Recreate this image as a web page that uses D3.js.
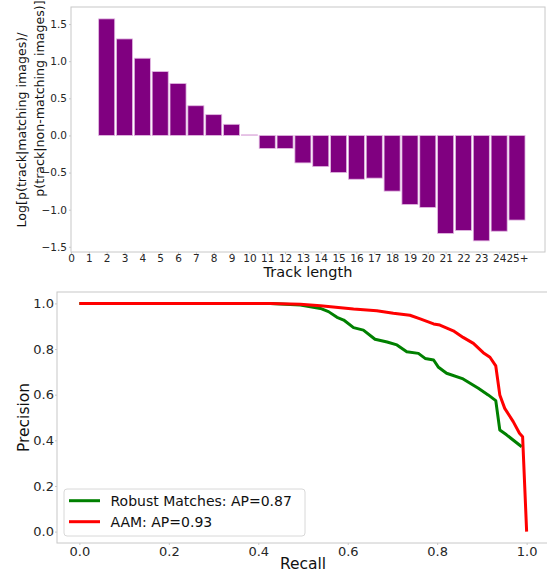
<!DOCTYPE html>
<html>
<head>
<meta charset="utf-8">
<script src="https://cdn.jsdelivr.net/npm/d3@7"></script>
<style>
  body { margin: 0; background: #fff; }
  svg { display: block; font-family: "DejaVu Sans", sans-serif; }
  .domain { stroke: #c8c8c8; }
  .tick line { stroke: #c8c8c8; }
  .tick text { fill: #262626; }
</style>
</head>
<body>
<div id="chart"></div>
<script>
'use strict';

// bar chart: log ratio by track length
let trackLabels = ["2", "3", "4", "5", "6", "7", "8", "9", "10", "11", "12", "13",
    "14", "15", "16", "17", "18", "19", "20", "21", "22", "23", "24", "25+"];
let logRatio = [1.57, 1.30, 1.04, 0.86, 0.70, 0.40, 0.28, 0.15, 0.01, -0.175, -0.175, -0.37,
    -0.42, -0.50, -0.59, -0.575, -0.75, -0.93, -0.97, -1.32, -1.28, -1.42, -1.29, -1.14];
let barTickLabels = ["0", "1", "2", "3", "4", "5", "6", "7", "8", "9", "10", "11", "12",
    "13", "14", "15", "16", "17", "18", "19", "20", "21", "22", "23", "24", "25+"];
let barYTicks = [-1.5, -1.0, -0.5, 0.0, 0.5, 1.0, 1.5];

// precision / recall curves
let robustRecall = [0.0, 0.427, 0.494, 0.539, 0.557, 0.576, 0.591, 0.613, 0.635, 0.661, 0.688,
    0.710, 0.732, 0.758, 0.773, 0.792, 0.803, 0.821, 0.858, 0.892, 0.914, 0.931, 0.940, 0.955, 0.989];
let robustPrecision = [1.0, 1.0, 0.993, 0.978, 0.964, 0.939, 0.927, 0.894, 0.883, 0.843, 0.831,
    0.818, 0.788, 0.781, 0.759, 0.752, 0.720, 0.694, 0.669, 0.628, 0.599, 0.574, 0.445, 0.424, 0.372];
let aamRecall = [0.0, 0.427, 0.494, 0.539, 0.613, 0.665, 0.702, 0.739, 0.762, 0.792, 0.806,
    0.836, 0.858, 0.881, 0.903, 0.918, 0.931, 0.940, 0.951, 0.970, 0.984, 0.991, 1.0];
let aamPrecision = [1.0, 1.0, 0.996, 0.99, 0.975, 0.968, 0.957, 0.948, 0.932, 0.910, 0.905,
    0.880, 0.851, 0.825, 0.784, 0.764, 0.726, 0.599, 0.540, 0.482, 0.431, 0.416, 0.0];
let prTicks = [0.0, 0.2, 0.4, 0.6, 0.8, 1.0];
let seriesNames = ["Robust Matches: AP=0.87", "AAM: AP=0.93"];
let seriesColors = ["#008000", "#ff0000"];

const width = 547, height = 573;
const fmt = d3.format(".1f");

let svg = d3.select("#chart").append("svg")
    .attr("width", width)
    .attr("height", height);

/* ---------- upper panel: bar chart ---------- */
let barBox = {left: 71, right: 545, top: 7, bottom: 252};
let xBar = d3.scaleLinear().domain([0, 26.57]).range([barBox.left, barBox.right]);
let yBar = d3.scaleLinear().domain([-1.57, 1.73]).range([barBox.bottom, barBox.top]);

let gBar = svg.append("g");
gBar.append("rect")
    .attr("x", barBox.left).attr("y", barBox.top)
    .attr("width", barBox.right - barBox.left).attr("height", barBox.bottom - barBox.top)
    .attr("fill", "none").attr("stroke", "#c8c8c8");

gBar.selectAll("rect.bar")
    .data(logRatio)
    .enter()
    .append("rect")
    .attr("class", "bar")
    .attr("x", (d, i) => xBar(i + 2 - 0.45))
    .attr("width", xBar(0.9) - xBar(0))
    .attr("y", d => yBar(Math.max(d, 0)))
    .attr("height", d => Math.max(Math.abs(yBar(d) - yBar(0)), 0.8))
    .attr("fill", d => Math.abs(d) < 0.05 ? "#e8c6e8" : "#800080")
    .attr("stroke", "#e2b8e2")
    .attr("stroke-width", 0.8);

let xBarAxis = d3.axisBottom(xBar)
    .tickValues(d3.range(0, 26))
    .tickFormat((d, i) => barTickLabels[i])
    .tickSize(2).tickPadding(1);
gBar.append("g")
    .attr("transform", `translate(0,${barBox.bottom})`)
    .call(xBarAxis)
    .call(g => g.select(".domain").remove())
    .selectAll("text").attr("font-size", 10.5).attr("font-family", "DejaVu Sans");

let yBarAxis = d3.axisLeft(yBar)
    .tickValues(barYTicks)
    .tickFormat(fmt)
    .tickSize(2).tickPadding(2);
gBar.append("g")
    .attr("transform", `translate(${barBox.left},0)`)
    .call(yBarAxis)
    .call(g => g.select(".domain").remove())
    .selectAll("text").attr("font-size", 10.5).attr("font-family", "DejaVu Sans");

gBar.append("text")
    .attr("x", (barBox.left + barBox.right) / 2)
    .attr("y", 277)
    .attr("text-anchor", "middle")
    .attr("font-size", 14.5)
    .attr("fill", "#111")
    .text("Track length");

// two-line y label; second line sits higher than the first, as in the source
let yLab = gBar.append("text")
    .attr("transform", "translate(0,130) rotate(-90)")
    .attr("text-anchor", "middle")
    .attr("font-size", 12.6)
    .attr("fill", "#111");
yLab.append("tspan").attr("x", 0).attr("y", 26).text("Log[p(track|matching images)/");
yLab.append("tspan").attr("x", 31.5).attr("y", 43.5).text("p(track|non-matching images)]");

/* ---------- lower panel: precision / recall ---------- */
let prBox = {left: 57, right: 549, top: 292, bottom: 543};
let xPr = d3.scaleLinear().domain([-0.05, 1.05]).range([prBox.left, prBox.right]);
let yPr = d3.scaleLinear().domain([-0.05, 1.05]).range([prBox.bottom, prBox.top]);

let gPr = svg.append("g");
gPr.append("rect")
    .attr("x", prBox.left).attr("y", prBox.top)
    .attr("width", prBox.right - prBox.left).attr("height", prBox.bottom - prBox.top)
    .attr("fill", "none").attr("stroke", "#c8c8c8");

let line = d3.line().x(d => xPr(d[0])).y(d => yPr(d[1]));
let series = [
    d3.zip(robustRecall, robustPrecision),
    d3.zip(aamRecall, aamPrecision)];

gPr.selectAll("path.curve")
    .data(series)
    .enter()
    .append("path")
    .attr("class", "curve")
    .attr("d", line)
    .attr("fill", "none")
    .attr("stroke", (d, i) => seriesColors[i])
    .attr("stroke-width", 3)
    .attr("stroke-linejoin", "round");

let xPrAxis = d3.axisBottom(xPr).tickValues(prTicks).tickFormat(fmt).tickSize(2).tickPadding(2);
gPr.append("g")
    .attr("transform", `translate(0,${prBox.bottom})`)
    .call(xPrAxis)
    .call(g => g.select(".domain").remove())
    .selectAll("text").attr("font-size", 13).attr("font-family", "DejaVu Sans");

let yPrAxis = d3.axisLeft(yPr).tickValues(prTicks).tickFormat(fmt).tickSize(2).tickPadding(1);
gPr.append("g")
    .attr("transform", `translate(${prBox.left},0)`)
    .call(yPrAxis)
    .call(g => g.select(".domain").remove())
    .selectAll("text").attr("font-size", 13).attr("font-family", "DejaVu Sans");

gPr.append("text")
    .attr("x", (prBox.left + prBox.right) / 2)
    .attr("y", 569)
    .attr("text-anchor", "middle")
    .attr("font-size", 15.5)
    .attr("fill", "#111")
    .text("Recall");

gPr.append("text")
    .attr("transform", `translate(28.5,${(prBox.top + prBox.bottom) / 2}) rotate(-90)`)
    .attr("text-anchor", "middle")
    .attr("font-size", 15.5)
    .attr("fill", "#111")
    .text("Precision");

// legend
let legend = gPr.append("g").attr("transform", "translate(64,489)");
legend.append("rect")
    .attr("width", 241).attr("height", 47)
    .attr("rx", 3)
    .attr("fill", "#fff").attr("fill-opacity", 0.8)
    .attr("stroke", "#d8d8d8");
let items = legend.selectAll("g.item")
    .data(seriesNames)
    .enter()
    .append("g")
    .attr("class", "item")
    .attr("transform", (d, i) => `translate(0,${11.7 + i * 21})`);
items.append("line")
    .attr("x1", 5).attr("x2", 36)
    .attr("stroke", (d, i) => seriesColors[i])
    .attr("stroke-width", 3);
items.append("text")
    .attr("x", 46.5).attr("y", 5)
    .attr("font-size", 14)
    .attr("fill", "#111")
    .text(d => d);
</script>
</body>
</html>
